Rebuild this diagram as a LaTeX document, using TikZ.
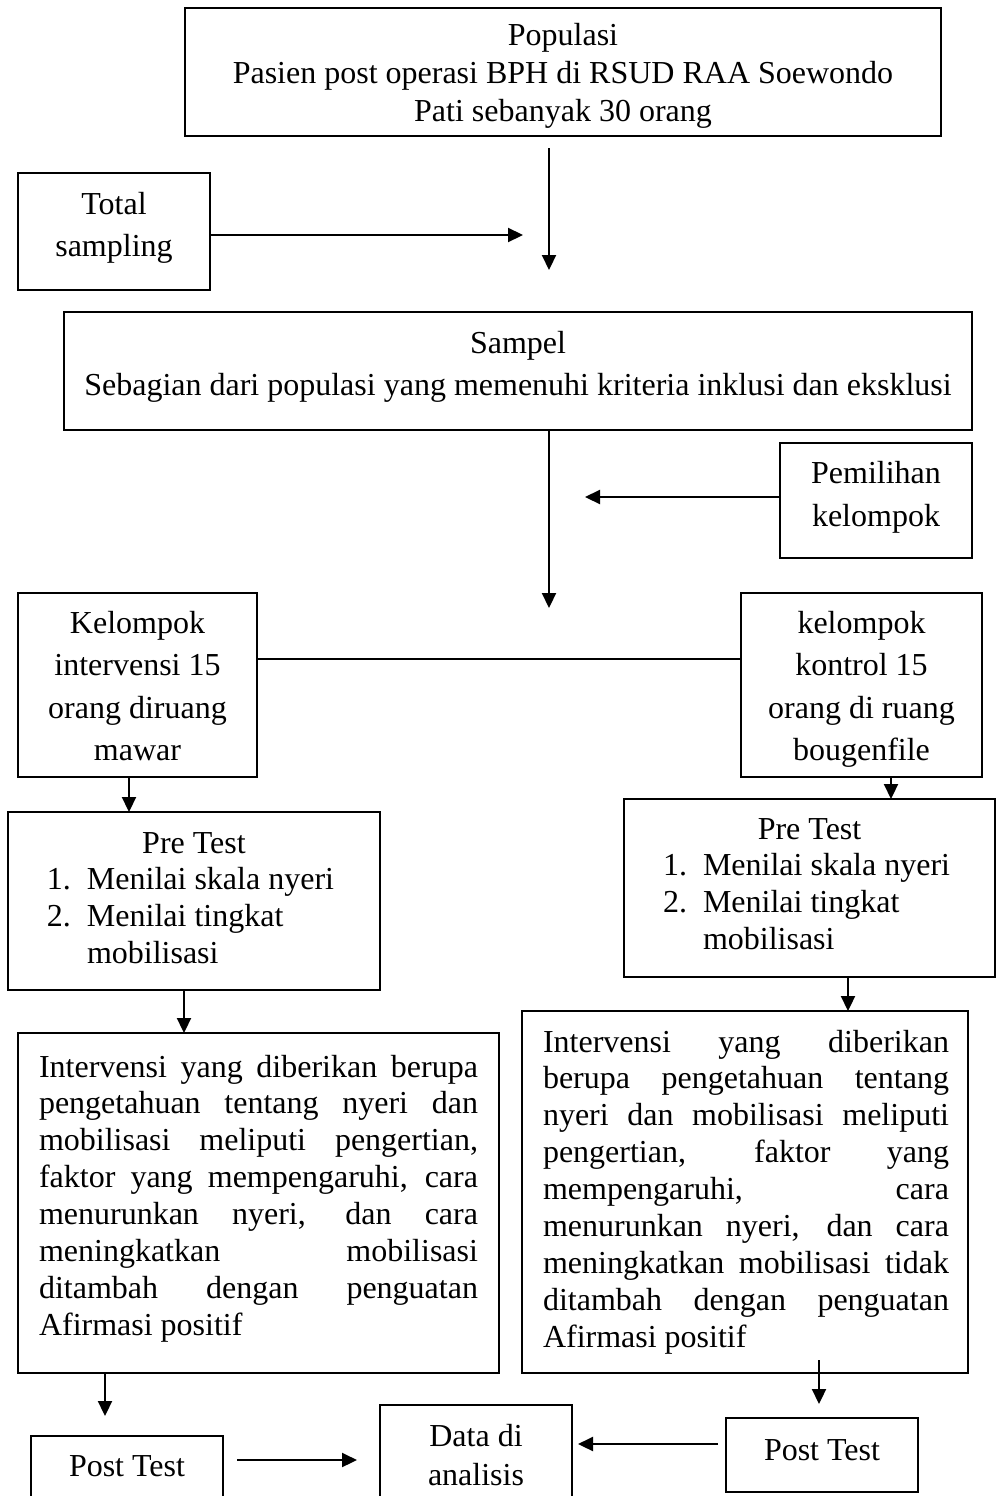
\documentclass[tikz,border=0pt]{standalone}
\usepackage{fontspec}
\setmainfont{Liberation Serif}
\usetikzlibrary{arrows.meta,calc}
\newcommand{\bt}[6]{\parbox[c][#2][t]{#1}{\fontsize{32pt}{#4}\selectfont\hyphenpenalty=10000\exhyphenpenalty=10000#5\rule{0pt}{#3}#6}}
\newcommand{\jst}[2]{\tolerance=10000\leftskip=#1\rightskip=#2\relax}
\begin{document}
\begin{tikzpicture}[x=1pt,y=-1pt,
  box/.style={draw, line width=1.9pt, inner sep=0pt, outer sep=0pt},
  arr/.style={line width=2.2pt, -{Triangle[length=15pt,width=14pt]}},
  link/.style={line width=1.6pt}]
\useasboundingbox (0,0) rectangle (996,1496);
\clip (0,0) rectangle (996,1496);
\fill[white] (0,0) rectangle (996,1496);

\node[box] (pop) at (563,72) {\bt{756pt}{128pt}{38pt}{37.5pt}{\centering}{Populasi\\Pasien post operasi BPH di RSUD RAA Soewondo\\Pati sebanyak 30 orang}};
\node[box] (ts) at (114,231.5) {\bt{192pt}{117pt}{41pt}{42.5pt}{\centering}{Total\\sampling}};
\node[box] (sampel) at (518,371) {\bt{908pt}{118pt}{41pt}{42pt}{\centering}{Sampel\\Sebagian dari populasi yang memenuhi kriteria inklusi dan eksklusi}};
\node[box] (pem) at (876,500.5) {\bt{192pt}{115pt}{40pt}{43pt}{\centering}{Pemilihan\\kelompok}};
\node[box] (ki) at (137.5,685) {\bt{239pt}{184pt}{40pt}{42.5pt}{\centering}{Kelompok\\intervensi 15\\orang diruang\\mawar}};
\node[box] (kk) at (861.5,685) {\bt{241pt}{184pt}{40pt}{42.5pt}{\centering}{kelompok\\kontrol 15\\orang di ruang\\bougenfile}};
\node[box] (preL) at (194,901) {\bt{372pt}{178pt}{41pt}{36.7pt}{\raggedright}{\makebox[\linewidth]{Pre Test}\\
  \hspace*{39pt}\makebox[40pt][l]{1.}Menilai skala nyeri\\
  \hspace*{39pt}\makebox[40pt][l]{2.}Menilai tingkat\\
  \hspace*{79pt}mobilisasi}};
\node[box] (preR) at (809.5,888) {\bt{371pt}{178pt}{40pt}{36.7pt}{\raggedright}{\makebox[\linewidth]{Pre Test}\\
  \hspace*{39pt}\makebox[40pt][l]{1.}Menilai skala nyeri\\
  \hspace*{39pt}\makebox[40pt][l]{2.}Menilai tingkat\\
  \hspace*{79pt}mobilisasi}};
\node[box] (intL) at (258.5,1203) {\bt{481pt}{340pt}{44pt}{36.9pt}{\jst{21pt}{21pt}}{Intervensi yang diberikan berupa\linebreak
pengetahuan tentang nyeri dan\linebreak
mobilisasi meliputi pengertian,\linebreak
faktor yang mempengaruhi, cara\linebreak
menurunkan nyeri, dan cara\linebreak
meningkatkan mobilisasi\linebreak
ditambah dengan penguatan\linebreak
Afirmasi positif}};
\node[box] (intR) at (745,1192) {\bt{446pt}{362pt}{41pt}{36.9pt}{\jst{21pt}{19pt}}{Intervensi yang diberikan\linebreak
berupa pengetahuan tentang\linebreak
nyeri dan mobilisasi meliputi\linebreak
pengertian, faktor yang\linebreak
mempengaruhi, cara\linebreak
menurunkan nyeri, dan cara\linebreak
meningkatkan mobilisasi tidak\linebreak
ditambah dengan penguatan\linebreak
Afirmasi positif}};
\node[box] (postL) at (127,1486) {\bt{192pt}{100pt}{40pt}{37pt}{\centering}{Post Test}};
\node[box] (data) at (476,1470.5) {\bt{192pt}{131pt}{41pt}{39pt}{\centering}{Data di\\analisis}};
\node[box] (postR) at (822,1455) {\bt{192pt}{74pt}{42pt}{37pt}{\centering}{Post Test}};

\coordinate (a1) at (549,270);
\draw[arr] ($(pop.south -| a1)+(0,12)$) -- (a1);
\coordinate (a2) at (523,235);
\draw[arr] (ts.east |- a2) -- (a2);
\coordinate (a3) at (549,608);
\draw[arr] (sampel.south -| a3) -- (a3);
\coordinate (a4) at (585,497);
\draw[arr] (pem.west |- a4) -- (a4);
\coordinate (a5) at (500,659);
\draw[link] (ki.east |- a5) -- (kk.west |- a5);
\coordinate (a6) at (129,790);
\draw[arr] (ki.south -| a6) -- (preL.north -| a6);
\coordinate (a7) at (891,790);
\draw[arr] (kk.south -| a7) -- (preR.north -| a7);
\coordinate (a8) at (184,1000);
\draw[arr] (preL.south -| a8) -- (intL.north -| a8);
\coordinate (a9) at (848,1000);
\draw[arr] (preR.south -| a9) -- (intR.north -| a9);
\coordinate (a10) at (105,1416);
\draw[arr] (intL.south -| a10) -- (a10);
\coordinate (a11) at (819,1404);
\draw[arr] ($(intR.south -| a11)+(0,-13)$) -- (a11);
\coordinate (a12) at (357,1460);
\draw[arr] ($(postL.east |- a12)+(14,0)$) -- (a12);
\coordinate (a13) at (578,1444);
\draw[arr] ($(postR.west |- a13)+(-8,0)$) -- (a13);
\end{tikzpicture}
\end{document}
